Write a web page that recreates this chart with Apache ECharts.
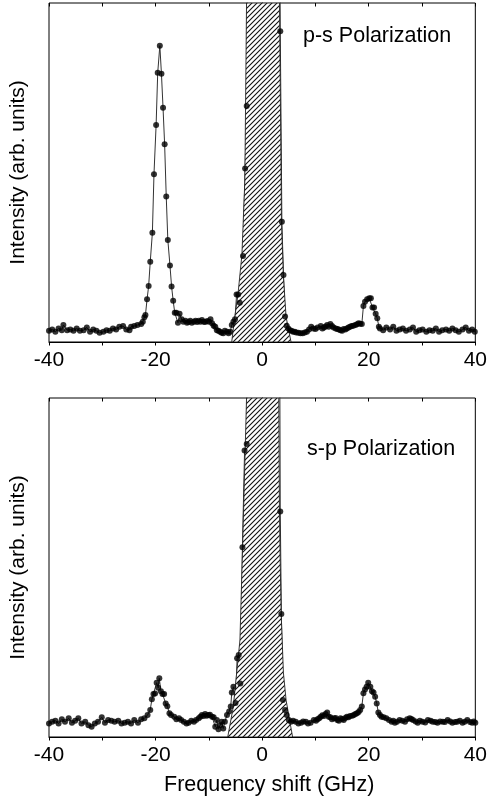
<!DOCTYPE html>
<html><head><meta charset="utf-8">
<script src="https://cdn.jsdelivr.net/npm/echarts@6/dist/echarts.min.js"></script>
<style>html,body{margin:0;padding:0;background:#fff}#c{width:490px;height:802px}</style>
</head><body><div id="c"></div>
<script>
// ---- data ----
const xTicks = [-40, -20, 0, 20, 40];
const axisTitleX = 'Frequency shift (GHz)';
const axisTitleY = 'Intensity (arb. units)';
const topLabel = 'p-s Polarization';
const bottomLabel = 's-p Polarization';

const topShift = [-40.0,-39.4,-38.8,-38.2,-37.6,-37.3,-36.6,-36.0,-35.4,-34.8,-34.2,-33.5,-32.9,-32.3,-31.7,-31.1,-30.5,-29.8,-29.2,-28.6,-28.0,-27.4,-26.8,-26.1,-25.5,-24.9,-24.6,-24.0,-23.4,-22.7,-22.4,-22.1,-21.9,-21.6,-21.3,-21.0,-20.6,-20.3,-19.9,-19.6,-19.2,-18.9,-18.6,-18.3,-18.0,-17.7,-17.3,-17.0,-16.7,-16.4,-16.1,-15.8,-15.5,-15.1,-14.8,-14.4,-14.1,-13.8,-13.5,-13.2,-12.8,-12.5,-12.2,-11.9,-11.6,-11.3,-11.0,-10.7,-10.3,-10.0,-9.7,-9.4,-9.1,-8.8,-8.5,-8.2,-7.9,-7.6,-7.3,-7.0,-6.6,-6.3,-6.0,-5.7,-5.4,-5.1,-4.8,-4.5,-4.2,-3.6,-3.2,-2.9,-2.6,3.1,3.4,3.7,4.0,4.3,4.6,4.9,5.2,5.5,5.8,6.1,6.4,6.8,7.2,7.6,8.0,8.4,8.8,9.2,9.6,10.0,10.4,11.0,11.3,11.6,11.9,12.2,12.5,12.8,13.1,13.4,13.8,14.1,14.4,14.7,15.0,15.3,15.6,15.9,16.2,16.5,16.8,17.1,17.5,17.8,18.1,18.4,18.7,19.0,19.3,19.7,20.1,20.4,20.7,21.0,21.3,21.6,21.9,22.1,22.7,23.3,24.0,24.6,25.2,25.8,26.4,27.0,27.7,28.3,28.9,29.5,30.1,30.8,31.4,32.0,32.6,33.2,33.8,34.5,35.1,35.7,36.3,36.9,37.6,38.2,38.8,39.4,39.9];
const topIntensity = [3.3,3.7,3.0,4.0,3.5,5.0,3.5,3.7,3.3,4.0,3.3,3.5,4.3,3.0,3.7,3.3,2.7,3.0,3.5,3.3,4.0,3.7,4.5,4.7,3.7,3.5,4.5,4.7,5.0,5.3,6.0,7.3,8.0,12.6,16.5,23.7,32.2,49.5,64.0,79.4,87.4,79.1,69.1,58.3,42.9,30.1,22.6,16.4,12.2,8.6,8.6,5.7,8.3,6.7,6.0,6.3,5.7,5.9,6.3,5.7,6.0,6.3,5.9,6.3,6.0,6.5,6.0,5.9,6.2,6.0,6.7,5.5,4.8,4.5,3.5,3.3,3.0,2.7,2.6,3.3,3.0,2.6,3.0,5.0,6.0,6.7,14.0,14.0,11.6,25.4,51.2,69.6,200,200,91.7,35.5,19.8,7.5,4.8,4.0,3.5,3.3,3.0,3.0,2.8,2.7,2.6,2.6,2.8,3.0,3.7,4.5,4.0,3.8,4.3,4.7,4.0,4.3,4.6,5.0,4.5,5.3,4.7,4.3,4.0,3.8,3.7,3.5,3.3,3.8,3.7,4.0,4.3,4.5,4.7,4.8,5.0,5.2,5.5,5.4,5.3,10.6,11.9,12.6,12.9,12.9,10.2,10.2,8.3,7.0,4.5,4.0,3.5,4.3,3.7,4.5,3.3,3.7,4.0,3.3,3.7,4.3,3.0,3.5,3.7,3.0,3.5,3.3,4.0,3.0,3.5,3.7,3.3,4.0,3.5,3.0,3.7,4.3,3.3,3.7,3.0];

const bottomShift = [-40.0,-39.4,-38.8,-38.2,-37.6,-37.0,-36.3,-35.7,-35.1,-34.5,-33.9,-33.2,-32.6,-32.0,-31.4,-30.8,-30.1,-29.5,-28.9,-28.3,-27.7,-27.0,-26.4,-25.8,-25.2,-24.6,-24.0,-23.3,-22.7,-22.1,-21.5,-21.0,-20.7,-20.4,-20.1,-19.8,-19.5,-19.3,-19.0,-18.7,-18.4,-18.1,-17.8,-17.4,-17.1,-16.5,-16.1,-15.6,-15.2,-14.7,-14.2,-13.8,-13.3,-12.8,-12.4,-11.9,-11.6,-11.3,-11.0,-10.7,-10.4,-10.1,-9.8,-9.4,-9.1,-8.8,-8.5,-8.2,-7.9,-7.6,-7.3,-7.0,-6.6,-6.2,-5.9,-5.7,-5.4,-5.0,-4.7,-4.4,-4.1,-3.7,-3.3,-2.9,-2.6,3.0,3.4,3.6,3.9,4.3,4.6,5.0,5.4,5.8,6.3,6.8,7.3,7.7,8.2,8.6,9.1,9.7,10.1,10.4,10.7,11.0,11.3,11.6,11.9,12.2,12.5,12.8,13.1,13.5,13.8,14.1,14.4,14.7,15.0,15.3,15.6,15.9,16.2,16.5,16.9,17.2,17.5,17.8,18.1,18.4,18.7,19.0,19.3,19.6,19.9,20.3,20.6,20.9,21.2,21.5,21.8,22.1,22.4,22.8,23.3,23.8,24.3,24.6,24.9,25.3,25.8,26.3,26.8,27.2,27.7,28.0,28.3,28.8,29.2,29.6,30.1,30.6,31.1,31.6,32.0,32.5,32.9,33.4,33.9,34.3,34.8,35.3,35.7,36.2,36.6,37.1,37.6,38.0,38.5,39.0,39.4,39.7,40.0];
const bottomIntensity = [4.0,4.5,4.8,4.0,5.2,4.5,5.5,4.2,4.8,5.5,4.0,4.5,3.5,3.0,4.0,4.5,5.8,4.2,5.0,4.8,4.5,4.8,4.0,4.2,4.5,4.0,5.0,4.2,5.2,5.5,6.5,8.0,11.1,12.7,12.8,16.0,14.5,17.3,13.5,12.7,12.7,9.9,9.1,7.0,6.5,6.0,5.2,5.5,5.0,4.5,4.0,4.2,4.8,4.5,5.0,5.5,6.0,6.5,6.2,6.8,6.3,6.5,6.6,6.0,5.8,3.0,5.0,2.3,3.5,4.5,2.5,4.5,6.5,7.5,9.0,13.1,14.8,10.0,23.2,24.2,15.8,56.0,84.5,86.4,250,250,66.5,36.3,10.9,8.0,6.5,5.0,4.5,4.8,4.5,4.0,4.2,4.6,4.5,4.0,4.2,5.0,4.8,5.2,5.5,6.0,6.4,6.2,6.8,7.2,6.0,5.8,5.2,5.5,5.6,5.0,4.8,5.5,5.3,5.0,5.6,6.0,5.8,6.2,6.3,6.5,6.8,7.0,7.4,8.0,9.0,12.9,14.0,14.8,16.0,14.8,13.5,13.1,11.9,9.9,7.2,6.5,6.0,5.8,5.5,5.0,4.5,4.8,4.2,4.5,5.0,4.8,4.5,5.2,5.5,5.3,5.0,4.6,4.2,4.8,4.5,4.3,5.0,4.8,4.5,4.4,4.2,4.6,4.5,4.4,5.0,4.6,4.2,4.4,4.5,4.8,4.2,4.5,5.0,4.4,4.2,4.6,4.2];

// hatched (masked elastic) region outlines
const topHatchShift = [-5.71,-5.29,-4.55,-3.80,-3.25,-2.93,3.25,3.56,3.62,3.99,4.49,5.42];
const topHatchLevel = [0,5.6,13.9,25.7,47.5,100,100,47.8,35.4,19.2,7.4,0];
const bottomHatchShift = [-6.46,-5.42,-4.17,-3.67,-2.93,3.12,3.25,3.38,3.56,3.99,4.49,5.71];
const bottomHatchLevel = [0,8.9,28.6,56.0,100,100,66.4,52.2,36.6,18.9,10.9,0];

// ---- chart ----
const FONT = '"Liberation Sans", Arial, Helvetica, sans-serif';
const zip = (a, b) => a.map((v, i) => [v, b[i]]);

const hatch = document.createElement('canvas');
hatch.width = 5; hatch.height = 5;
(function () {
  const g = hatch.getContext('2d');
  g.fillStyle = '#fff'; g.fillRect(0, 0, 5, 5);
  g.strokeStyle = '#111'; g.lineWidth = 1.1;
  g.beginPath();
  g.moveTo(-1, 6); g.lineTo(6, -1);
  g.moveTo(-1, 1); g.lineTo(1, -1);
  g.moveTo(4, 6); g.lineTo(6, 4);
  g.stroke();
})();

function hatchSeries(idx, xs, ys) {
  return {
    type: 'custom', xAxisIndex: idx * 2, yAxisIndex: idx, data: [0], z: 3, silent: true, clip: true,
    renderItem: function (params, api) {
      return {
        type: 'polygon',
        shape: { points: xs.map((x, i) => api.coord([x, ys[i]])) },
        style: { fill: { image: hatch, repeat: 'repeat' }, stroke: '#222', lineWidth: 0.9 }
      };
    }
  };
}

function xAxes(gridIndex, withName) {
  return [{
    type: 'value', gridIndex, min: -40, max: 40, interval: 10, position: 'bottom',
    axisLine: { show: true, lineStyle: { color: '#000', width: 1 } },
    axisTick: { show: true, length: 3.5, lineStyle: { color: '#000' } },
    axisLabel: {
      margin: 8, color: '#000', fontSize: 21, fontFamily: FONT,
      formatter: v => (xTicks.indexOf(v) >= 0 ? String(v) : '')
    },
    splitLine: { show: false },
    name: withName ? axisTitleX : '', nameLocation: 'middle', nameGap: 37,
    nameTextStyle: { color: '#000', fontSize: 21.5, fontFamily: FONT, padding: [0, 0, 0, 14] }
  }, {
    type: 'value', gridIndex, min: -40, max: 40, interval: 10, position: 'top',
    axisLine: { show: false },
    axisTick: { show: true, inside: true, length: 3.5, lineStyle: { color: '#000' } },
    axisLabel: { show: false }, splitLine: { show: false }
  }];
}

function yAxis(gridIndex) {
  return {
    type: 'value', gridIndex, min: 0, max: 100,
    axisLine: { show: true, lineStyle: { color: '#000' } },
    axisTick: { show: false }, axisLabel: { show: false }, splitLine: { show: false },
    name: axisTitleY, nameLocation: 'middle', nameGap: 20,
    nameTextStyle: { color: '#000', fontSize: 21, fontFamily: FONT }
  };
}

function dataSeries(idx, xs, ys) {
  const d = zip(xs, ys);
  return [{
    type: 'line', xAxisIndex: idx * 2, yAxisIndex: idx, data: d, z: 2, clip: true,
    showSymbol: false, symbol: 'none', lineStyle: { color: '#333', width: 1 }, silent: true
  }, {
    type: 'scatter', xAxisIndex: idx * 2, yAxisIndex: idx, data: d, z: 4, clip: true,
    symbol: 'circle', symbolSize: 6, itemStyle: { color: '#000' }, silent: true
  }];
}

const chart = echarts.init(document.getElementById('c'), null, { renderer: 'canvas' });
chart.setOption({
  animation: false,
  backgroundColor: '#fff',
  textStyle: { fontFamily: FONT },
  grid: [
    { left: 47, top: 3, width: 431, height: 339, show: true, borderColor: '#000', borderWidth: 1, backgroundColor: 'transparent' },
    { left: 47, top: 398, width: 431, height: 339, show: true, borderColor: '#000', borderWidth: 1, backgroundColor: 'transparent' }
  ],
  xAxis: [].concat(xAxes(0, false), xAxes(1, true)),
  yAxis: [yAxis(0), yAxis(1)],
  graphic: [
    { type: 'text', left: 303, top: 25, z: 10, style: { text: topLabel, font: '21.5px ' + FONT, fill: '#000' } },
    { type: 'text', left: 307, top: 438, z: 10, style: { text: bottomLabel, font: '21.5px ' + FONT, fill: '#000' } }
  ],
  series: [].concat(
    dataSeries(0, topShift, topIntensity),
    [hatchSeries(0, topHatchShift, topHatchLevel)],
    dataSeries(1, bottomShift, bottomIntensity),
    [hatchSeries(1, bottomHatchShift, bottomHatchLevel)]
  )
});
</script></body></html>
